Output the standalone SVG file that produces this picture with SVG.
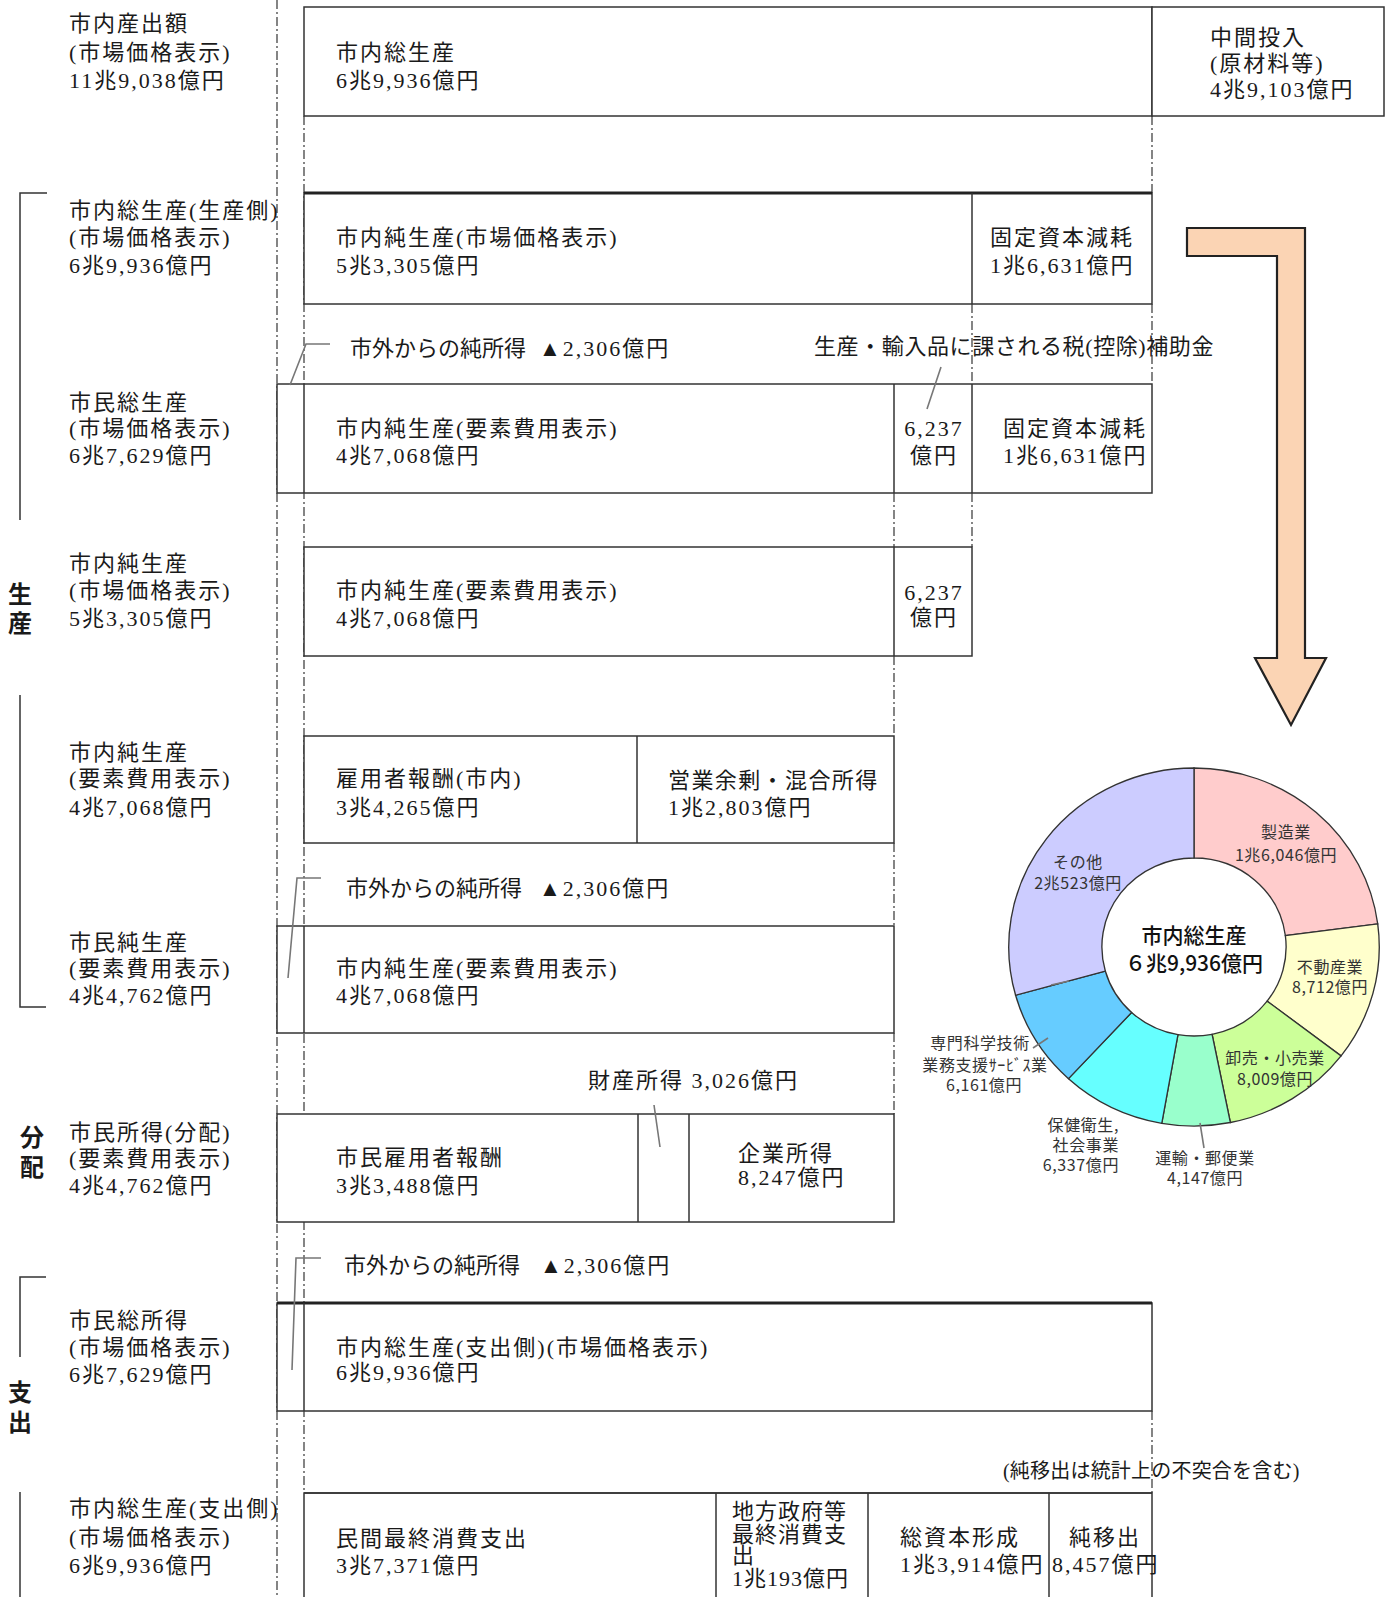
<svg xmlns="http://www.w3.org/2000/svg" width="1390" height="1597" viewBox="0 0 1390 1597">
<style>
.bx{fill:#fff;stroke:#333;stroke-width:1.5}
.ln{stroke:#333;stroke-width:1.5;fill:none}
.tk{stroke:#222;stroke-width:3;fill:none}
.dd{stroke:#444;stroke-width:1.3;stroke-dasharray:9 3 2 3;fill:none}
.t{font-family:"Liberation Serif","Noto Sans CJK JP",serif;font-size:22px;letter-spacing:2px;fill:#1a1a1a}
.t0{letter-spacing:0}
.m{text-anchor:middle}
.big{font-family:"Noto Sans CJK JP",sans-serif;font-size:24px;font-weight:700;fill:#1a1a1a;text-anchor:middle}
.ld{stroke:#777;stroke-width:1.6;fill:none}
.seg{stroke:#333;stroke-width:1.3}
.pl{font-family:"Noto Sans CJK JP",sans-serif;font-size:16px;letter-spacing:0.6px;fill:#333;text-anchor:middle}
.pc{font-family:"Noto Sans CJK JP",sans-serif;font-size:21px;font-weight:500;fill:#111;text-anchor:middle}
</style>
<rect width="1390" height="1597" fill="#fff"/>

<g id="guides">
<line class="dd" x1="277" y1="0" x2="277" y2="1597"/>
<line class="dd" x1="304" y1="116" x2="304" y2="1493"/>
<line class="dd" x1="1152" y1="116" x2="1152" y2="193"/>
<line class="dd" x1="1152" y1="304" x2="1152" y2="384"/>
<line class="dd" x1="1152" y1="1411" x2="1152" y2="1493"/>
<line class="dd" x1="972" y1="304" x2="972" y2="384"/>
<line class="dd" x1="972" y1="493" x2="972" y2="547"/>
<line class="dd" x1="894" y1="493" x2="894" y2="547"/>
<line class="dd" x1="894" y1="656" x2="894" y2="736"/>
<line class="dd" x1="894" y1="843" x2="894" y2="926"/>
<line class="dd" x1="894" y1="1033" x2="894" y2="1114"/>
</g>

<g id="brackets">
<polyline class="ln" points="47,193 20,193 20,520"/>
<polyline class="ln" points="20,695 20,1007 46,1007"/>
<polyline class="ln" points="46,1277 20,1277 20,1357"/>
<line class="ln" x1="20" y1="1492" x2="20" y2="1597"/>
<text class="big" x="20" y="603">生</text>
<text class="big" x="20" y="632">産</text>
<text class="big" x="32" y="1146">分</text>
<text class="big" x="32" y="1176">配</text>
<text class="big" x="20" y="1401">支</text>
<text class="big" x="20" y="1431">出</text>
</g>

<g id="labels">
<text class="t" x="69" y="31">市内産出額</text>
<text class="t" x="69" y="60">(市場価格表示)</text>
<text class="t" x="69" y="88">11兆9,038億円</text>
<text class="t" x="69" y="218">市内総生産(生産側)</text>
<text class="t" x="69" y="245">(市場価格表示)</text>
<text class="t" x="69" y="273">6兆9,936億円</text>
<text class="t" x="69" y="410">市民総生産</text>
<text class="t" x="69" y="436">(市場価格表示)</text>
<text class="t" x="69" y="463">6兆7,629億円</text>
<text class="t" x="69" y="571">市内純生産</text>
<text class="t" x="69" y="598">(市場価格表示)</text>
<text class="t" x="69" y="626">5兆3,305億円</text>
<text class="t" x="69" y="760">市内純生産</text>
<text class="t" x="69" y="786">(要素費用表示)</text>
<text class="t" x="69" y="815">4兆7,068億円</text>
<text class="t" x="69" y="950">市民純生産</text>
<text class="t" x="69" y="976">(要素費用表示)</text>
<text class="t" x="69" y="1003">4兆4,762億円</text>
<text class="t" x="69" y="1140">市民所得(分配)</text>
<text class="t" x="69" y="1166">(要素費用表示)</text>
<text class="t" x="69" y="1193">4兆4,762億円</text>
<text class="t" x="69" y="1328">市民総所得</text>
<text class="t" x="69" y="1355">(市場価格表示)</text>
<text class="t" x="69" y="1382">6兆7,629億円</text>
<text class="t" x="69" y="1516">市内総生産(支出側)</text>
<text class="t" x="69" y="1545">(市場価格表示)</text>
<text class="t" x="69" y="1573">6兆9,936億円</text>
</g>

<g id="row1">
<rect class="bx" x="304" y="7" width="848" height="109"/>
<rect class="bx" x="1152" y="7" width="232" height="109"/>
<text class="t" x="336" y="60">市内総生産</text>
<text class="t" x="336" y="88">6兆9,936億円</text>
<text class="t" x="1210" y="45">中間投入</text>
<text class="t" x="1210" y="71">(原材料等)</text>
<text class="t" x="1210" y="97">4兆9,103億円</text>
</g>

<g id="row2">
<rect class="bx" x="304" y="193" width="848" height="111"/>
<line class="tk" x1="304" y1="193" x2="1152" y2="193"/>
<line class="ln" x1="972" y1="193" x2="972" y2="304"/>
<text class="t" x="336" y="245">市内純生産(市場価格表示)</text>
<text class="t" x="336" y="273">5兆3,305億円</text>
<text class="t" x="990" y="245">固定資本減耗</text>
<text class="t" x="990" y="273">1兆6,631億円</text>
</g>

<g id="row3">
<rect class="bx" x="277" y="384" width="875" height="109"/>
<line class="ln" x1="304" y1="384" x2="304" y2="493"/>
<line class="ln" x1="894" y1="384" x2="894" y2="493"/>
<line class="ln" x1="972" y1="384" x2="972" y2="493"/>
<text class="t" x="336" y="436">市内純生産(要素費用表示)</text>
<text class="t" x="336" y="463">4兆7,068億円</text>
<text class="t m" x="934" y="436">6,237</text>
<text class="t m" x="934" y="463">億円</text>
<text class="t" x="1003" y="436">固定資本減耗</text>
<text class="t" x="1003" y="463">1兆6,631億円</text>
</g>

<g id="row4">
<rect class="bx" x="304" y="547" width="668" height="109"/>
<line class="ln" x1="894" y1="547" x2="894" y2="656"/>
<text class="t" x="336" y="598">市内純生産(要素費用表示)</text>
<text class="t" x="336" y="626">4兆7,068億円</text>
<text class="t m" x="934" y="600">6,237</text>
<text class="t m" x="934" y="625">億円</text>
</g>

<g id="row5">
<rect class="bx" x="304" y="736" width="590" height="107"/>
<line class="ln" x1="637" y1="736" x2="637" y2="843"/>
<text class="t" x="336" y="786">雇用者報酬(市内)</text>
<text class="t" x="336" y="815">3兆4,265億円</text>
<text class="t" x="668" y="788" style="letter-spacing:1.4px">営業余剰・混合所得</text>
<text class="t" x="668" y="815">1兆2,803億円</text>
</g>

<g id="row6">
<rect class="bx" x="277" y="926" width="617" height="107"/>
<line class="ln" x1="304" y1="926" x2="304" y2="1033"/>
<text class="t" x="336" y="976">市内純生産(要素費用表示)</text>
<text class="t" x="336" y="1003">4兆7,068億円</text>
</g>

<g id="row7">
<rect class="bx" x="277" y="1114" width="617" height="108"/>
<line class="ln" x1="638" y1="1114" x2="638" y2="1222"/>
<line class="ln" x1="689" y1="1114" x2="689" y2="1222"/>
<text class="t" x="336" y="1165">市民雇用者報酬</text>
<text class="t" x="336" y="1193">3兆3,488億円</text>
<text class="t" x="738" y="1161">企業所得</text>
<text class="t" x="738" y="1185">8,247億円</text>
</g>

<g id="row8">
<rect class="bx" x="277" y="1303" width="875" height="108"/>
<line class="tk" x1="277" y1="1303" x2="1152" y2="1303"/>
<line class="ln" x1="304" y1="1303" x2="304" y2="1411"/>
<text class="t" x="336" y="1355">市内総生産(支出側)(市場価格表示)</text>
<text class="t" x="336" y="1380">6兆9,936億円</text>
</g>

<g id="row9">
<rect class="bx" x="304" y="1493" width="848" height="130"/>
<line class="ln" x1="304" y1="1493" x2="1152" y2="1493" stroke-width="2.4"/>
<line class="ln" x1="716" y1="1493" x2="716" y2="1597"/>
<line class="ln" x1="868" y1="1493" x2="868" y2="1597"/>
<line class="ln" x1="1049" y1="1493" x2="1049" y2="1597"/>
<text class="t" x="336" y="1546">民間最終消費支出</text>
<text class="t" x="336" y="1573">3兆7,371億円</text>
<text class="t" x="732" y="1519" style="letter-spacing:1px">地方政府等</text>
<text class="t" x="732" y="1542" style="letter-spacing:1px">最終消費支</text>
<text class="t" x="732" y="1563" style="letter-spacing:1px">出</text>
<text class="t" x="732" y="1586" style="letter-spacing:1px">1兆193億円</text>
<text class="t" x="900" y="1545">総資本形成</text>
<text class="t" x="900" y="1572">1兆3,914億円</text>
<text class="t" x="1069" y="1545">純移出</text>
<text class="t" x="1052" y="1572">8,457億円</text>
</g>

<g id="notes">
<text class="t t0" x="350" y="356">市外からの純所得 <tspan x="539" style="letter-spacing:2px">▲2,306億円</tspan></text>
<text class="t" x="814" y="354" style="letter-spacing:0.6px">生産・輸入品に課される税(控除)補助金</text>
<text class="t t0" x="346" y="896">市外からの純所得 <tspan x="539" style="letter-spacing:2px">▲2,306億円</tspan></text>
<text class="t" x="588" y="1088">財産所得 3,026億円</text>
<text class="t t0" x="344" y="1273">市外からの純所得 <tspan x="540" style="letter-spacing:2px">▲2,306億円</tspan></text>
<text class="t" x="1003" y="1478" style="font-size:20px;letter-spacing:0.2px">(純移出は統計上の不突合を含む)</text>
</g>

<g id="connectors">
<polyline class="ld" points="330,344 306,344 290,385"/>
<line class="ld" x1="941" y1="367" x2="927" y2="409"/>
<polyline class="ld" points="321,878 297,878 288,978"/>
<line class="ld" x1="654" y1="1105" x2="660" y2="1147"/>
<polyline class="ld" points="321,1258 296,1258 292,1370"/>
<polygon points="1187,228 1305,228 1305,658 1326,658 1291,725 1255,658 1277,658 1277,256 1187,256" fill="#fbd4b4" stroke="#222" stroke-width="2.2" stroke-linejoin="miter"/>
</g>

<g id="pie">
<g transform="translate(1194,947) scale(1.035,1) translate(-1194,-947)">
<path class="seg" fill="#ffcccc" d="M1194,768 A179,179 0 0 1 1371.51,923.94 L1282.26,935.54 A89,89 0 0 0 1194,858 Z"/>
<path class="seg" fill="#ffffcc" d="M1371.51,923.94 A179,179 0 0 1 1336.10,1055.86 L1264.65,1001.12 A89,89 0 0 0 1282.26,935.54 Z"/>
<path class="seg" fill="#ccff99" d="M1336.10,1055.86 A179,179 0 0 1 1229.17,1122.51 L1211.48,1034.27 A89,89 0 0 0 1264.65,1001.12 Z"/>
<path class="seg" fill="#99ffcc" d="M1229.17,1122.51 A179,179 0 0 1 1162.86,1123.27 L1178.51,1034.64 A89,89 0 0 0 1211.48,1034.27 Z"/>
<path class="seg" fill="#66ffff" d="M1162.86,1123.27 A179,179 0 0 1 1072.75,1078.68 L1133.71,1012.47 A89,89 0 0 0 1178.51,1034.64 Z"/>
<path class="seg" fill="#66ccff" d="M1072.75,1078.68 A179,179 0 0 1 1021.64,995.29 L1108.30,971.01 A89,89 0 0 0 1133.71,1012.47 Z"/>
<path class="seg" fill="#ccccff" d="M1021.64,995.29 A179,179 0 0 1 1194,768 L1194,858 A89,89 0 0 0 1108.30,971.01 Z"/>
</g>
<line class="ld" x1="1033" y1="1048" x2="1048" y2="1038" stroke="#555"/>
<line class="ld" x1="1200" y1="1123" x2="1204" y2="1148" stroke="#555"/>
<line class="ld" x1="1051" y1="985" x2="1069" y2="981" stroke="#888" stroke-width="1.2"/>
<text class="pc" x="1194" y="943">市内総生産</text>
<text class="pc" x="1194" y="971">６兆9,936億円</text>
<text class="pl" x="1286" y="838">製造業</text>
<text class="pl" x="1286" y="861">1兆6,046億円</text>
<text class="pl" x="1078" y="868">その他</text>
<text class="pl" x="1078" y="889">2兆523億円</text>
<text class="pl" x="1330" y="973">不動産業</text>
<text class="pl" x="1330" y="993">8,712億円</text>
<text class="pl" x="1275" y="1064">卸売・小売業</text>
<text class="pl" x="1275" y="1085">8,009億円</text>
<text class="pl" x="1205" y="1164">運輸・郵便業</text>
<text class="pl" x="1205" y="1184">4,147億円</text>
<text class="pl" x="1119" y="1131" style="text-anchor:end">保健衛生,</text>
<text class="pl" x="1119" y="1151" style="text-anchor:end">社会事業</text>
<text class="pl" x="1119" y="1171" style="text-anchor:end">6,337億円</text>
<text class="pl" x="980" y="1049">専門科学技術</text>
<text class="pl" x="985" y="1071">業務支援ｻｰﾋﾞｽ業</text>
<text class="pl" x="984" y="1091">6,161億円</text>
</g>
</svg>
